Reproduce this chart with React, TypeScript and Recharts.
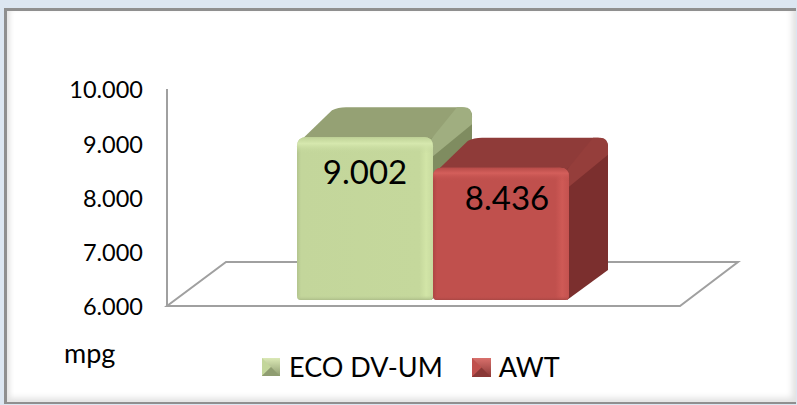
import React from "react";
import { BarChart, Bar, XAxis, YAxis, LabelList, Legend, usePlotArea } from "recharts";

const categories = ["mpg"];
const ecoValues = [9.002];
const awtValues = [8.436];
const yTicks = [6, 7, 8, 9, 10];
const data = categories.map((c, i) => ({ c, eco: ecoValues[i], awt: awtValues[i] }));

const FONT = "Lato, 'Open Sans', sans-serif";
const DX = 39;
const DY = 30;
const LIFT = 6;

const Defs = () => (
  <defs>
    <linearGradient id="gFrontH" x1="0" x2="1" y1="0" y2="0">
      <stop offset="0" stopColor="#b3c48e" />
      <stop offset="0.03" stopColor="#c3d69b" />
      <stop offset="0.9" stopColor="#c5d89c" />
      <stop offset="0.95" stopColor="#d2e5a7" />
      <stop offset="1" stopColor="#c7da9f" />
    </linearGradient>
    <linearGradient id="rFrontH" x1="0" x2="1" y1="0" y2="0">
      <stop offset="0" stopColor="#ae4744" />
      <stop offset="0.03" stopColor="#c0504d" />
      <stop offset="0.9" stopColor="#c0504d" />
      <stop offset="0.95" stopColor="#cf5a56" />
      <stop offset="1" stopColor="#c4524f" />
    </linearGradient>
    <linearGradient id="gRim" x1="0" x2="0" y1="0" y2="1">
      <stop offset="0" stopColor="#bfd297" stopOpacity="1" />
      <stop offset="0.04" stopColor="#d6e8ae" stopOpacity="1" />
      <stop offset="0.1" stopColor="#c3d69b" stopOpacity="0" />
      <stop offset="0.97" stopColor="#c3d69b" stopOpacity="0" />
      <stop offset="1" stopColor="#adbd89" stopOpacity="1" />
    </linearGradient>
    <linearGradient id="rRim" x1="0" x2="0" y1="0" y2="1">
      <stop offset="0" stopColor="#b84c49" stopOpacity="1" />
      <stop offset="0.04" stopColor="#d45f5b" stopOpacity="1" />
      <stop offset="0.1" stopColor="#c0504d" stopOpacity="0" />
      <stop offset="0.97" stopColor="#c0504d" stopOpacity="0" />
      <stop offset="1" stopColor="#a94744" stopOpacity="1" />
    </linearGradient>
    <linearGradient id="gIcon" x1="0" x2="0" y1="0" y2="1">
      <stop offset="0" stopColor="#dbe9b6" />
      <stop offset="1" stopColor="#8f9d71" />
    </linearGradient>
    <linearGradient id="rIcon" x1="0" x2="0" y1="0" y2="1">
      <stop offset="0" stopColor="#d9706c" />
      <stop offset="1" stopColor="#8a3836" />
    </linearGradient>
  </defs>
);

const Floor = () => {
  const p = usePlotArea();
  if (!p) return null;
  const l = p.x;
  const r = p.x + p.width;
  const b = p.y + p.height;
  const pts = `${l},${b} ${r},${b} ${r + 58},${b - 44} ${l + 59},${b - 44}`;
  return (
    <g>
      <Defs />
      <polygon points={pts} fill="none" stroke="#a0a0a0" strokeWidth={2} />
    </g>
  );
};

const Box = (props: any) => {
  const { x, y: y0, width: w, height: h, top, side, frontId, rimId, edge } = props;
  const y = y0 - LIFT;
  const r = 9;
  const br = 4;
  const R = x + w;
  const B = y + h;
  const front = `M${x + r},${y} L${R - r},${y} Q${R},${y} ${R},${y + r} L${R},${B - br} Q${R},${B} ${R - br},${B}
    L${x + br},${B} Q${x},${B} ${x},${B - br} L${x},${y + r} Q${x},${y} ${x + r},${y} Z`;
  return (
    <g>
      <path
        d={`M${x + 4},${y + 3} L${x + DX - 4},${y - DY + 3} Q${x + DX + 2},${y - DY} ${x + DX + 10},${y - DY}
            L${R + DX - 10},${y - DY} Q${R + DX},${y - DY} ${R + DX},${y - DY + 10} L${R},${y + 8} Z`}
        fill={top}
      />
      <path
        d={`M${R - 4},${y + 3} L${R + DX - 6},${y - DY + 3} Q${R + DX},${y - DY + 2} ${R + DX},${y - DY + 10}
            L${R + DX},${B - DY} L${R - 2},${B} Z`}
        fill={side}
      />
      <path
        d={`M${R - 2},${y + 2} L${R + DX - 15},${y - DY} L${R + DX - 8},${y - DY}
            Q${R + DX},${y - DY} ${R + DX},${y - DY + 9} L${R + DX},${y - DY + 17} L${R},${y + 19} Z`}
        fill={edge}
      />
      <path d={front} fill={`url(#${frontId})`} />
      <path d={front} fill={`url(#${rimId})`} />
    </g>
  );
};

const valueLabel = (dx: number, dy: number) => (p: any) => (
  <text
    x={p.x + p.width / 2 + dx}
    y={p.y + dy}
    textAnchor="middle"
    dominantBaseline="central"
    fontFamily={FONT}
    fontSize={33}
    fill="#000"
  >
    {Number(p.value).toFixed(3)}
  </text>
);

const Icon = ({ id, dark, mid, size }: { id: string; dark: string; mid: string; size: number }) => (
  <svg width={size} height={size} viewBox="0 0 17 17" style={{ display: "block" }}>
    <rect width={17} height={17} fill={`url(#${id})`} />
    <polygon points="0,0 8.5,8.5 0,17" fill={mid} />
    <polygon points="0,17 8.5,8.5 17,17" fill={dark} />
  </svg>
);

const LegendContent = () => (
  <div style={{ display: "flex", alignItems: "center", fontFamily: FONT, fontSize: 27, color: "#000", lineHeight: "30px", whiteSpace: "nowrap" }}>
    <Icon id="gIcon" dark="#8f9d71" mid="#c3d69b" size={18} />
    <span style={{ marginLeft: 9 }}>ECO DV-UM</span>
    <span style={{ width: 29 }} />
    <Icon id="rIcon" dark="#8a3836" mid="#c0504d" size={19} />
    <span style={{ marginLeft: 8 }}>AWT</span>
  </div>
);

export default function App() {
  return (
    <div style={{ position: "absolute", left: 0, top: 0, width: 797, height: 405, background: "#dce6f1", overflow: "hidden" }}>
      <div
        style={{
          position: "absolute",
          left: 4,
          top: 8,
          width: 792,
          height: 396,
          boxSizing: "border-box",
          background: "#fff",
          borderLeft: "3px solid #8f8f8f",
          borderTop: "3px solid #8f8f8f",
          borderBottom: "2px solid #8f8f8f",
          boxShadow: "inset 5px 0 5px -2px #e4e4e4, inset -6px -6px 6px -2px #e2e2e2",
        }}
      />
      <div style={{ position: "absolute", left: 0, top: 0 }}>
        <BarChart
          width={797}
          height={405}
          data={data}
          margin={{ top: 89, left: 67, right: 117, bottom: 99 }}
          barSize={136}
          barGap={0}
        >
          <Floor />
          <XAxis
            dataKey="c"
            tick={false}
            tickLine={false}
            height={0}
            padding={{ left: 19, right: 0 }}
            axisLine={{ stroke: "#a0a0a0", strokeWidth: 2 }}
          />
          <YAxis
            width={100}
            domain={[6, 10]}
            ticks={yTicks}
            tickFormatter={(v: number) => v.toFixed(3)}
            tickLine={false}
            tickMargin={18}
            interval={0}
            axisLine={{ stroke: "#a0a0a0", strokeWidth: 2 }}
            tick={{ fontFamily: FONT, fontSize: 23.5, fill: "#000", dy: 1 }}
            label={{ value: "mpg", position: "insideBottomLeft", dx: -8, dy: 62, fontFamily: FONT, fontSize: 27, fill: "#000" }}
          />
          <Bar
            dataKey="eco"
            isAnimationActive={false}
            shape={(p: any) => <Box {...p} top="#95a174" side="#7f8c60" edge="#a0ae80" frontId="gFrontH" rimId="gRim" />}
          >
            <LabelList dataKey="eco" content={valueLabel(0, 28)} />
          </Bar>
          <Bar
            dataKey="awt"
            isAnimationActive={false}
            shape={(p: any) => <Box {...p} top="#8f3b39" side="#7b2f2e" edge="#953e3b" frontId="rFrontH" rimId="rRim" />}
          >
            <LabelList dataKey="awt" content={valueLabel(6, 23)} />
          </Bar>
          <Legend
            verticalAlign="middle"
            align="center"
            content={LegendContent}
            wrapperStyle={{ position: "absolute", left: 262, top: 352, width: "auto", height: 30, bottom: "auto", right: "auto" }}
          />
        </BarChart>
      </div>
    </div>
  );
}
